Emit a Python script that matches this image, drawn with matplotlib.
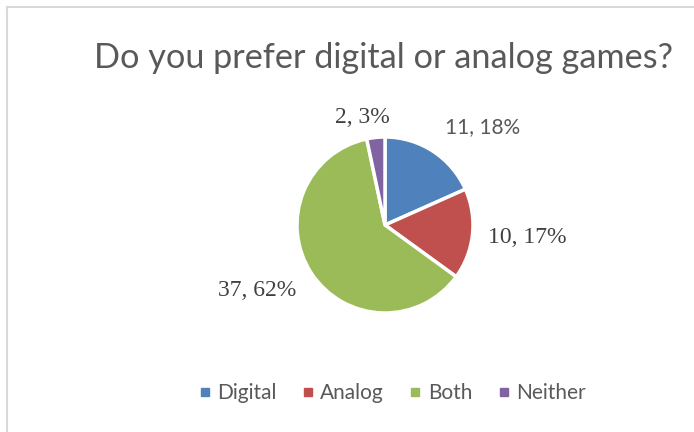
import numpy as np
import matplotlib.pyplot as plt
from matplotlib.lines import Line2D

categories = ["Digital", "Analog", "Both", "Neither"]
counts = [11, 10, 37, 2]
colors = ["#4F81BD", "#C0504D", "#9BBB59", "#8064A2"]

W, H = 694, 432
fig = plt.figure(figsize=(W / 100, H / 100), dpi=100)

# light frame on left and top
fig.add_artist(Line2D([7 / W, 7 / W], [0, 1 - 7 / H], color="#D9D9D9", lw=1.5))
fig.add_artist(Line2D([7 / W, 1], [1 - 7 / H, 1 - 7 / H], color="#D9D9D9", lw=1.5))

fig.text(383 / W, 1 - 58 / H, "Do you prefer digital or analog games?",
         ha="center", va="center", fontsize=24.7, color="#595959", family="Lato")

cx, cy, r = 385, 225, 88
ax = fig.add_axes([(cx - r) / W, 1 - (cy + r) / H, 2 * r / W, 2 * r / H])
wedges, _ = ax.pie(counts, colors=colors, startangle=90, counterclock=False,
                   radius=1, wedgeprops=dict(edgecolor="white", linewidth=2.5))
ax.set_xlim(-1, 1)
ax.set_ylim(-1, 1)
ax.set_aspect("equal")

total = sum(counts)
# label placement (angle tweak in degrees, distance in radii, font)
label_pos = [(12, 1.57, "Lato", 15, "#595959"),
             (-1, 1.62, "Liberation Serif", 17, "#404040"),
             (6, 1.63, "Liberation Serif", 17, "#404040"),
             (-6, 1.25, "Liberation Serif", 17, "#404040")]
for w, c, (dang, dist, fam, fs, col) in zip(wedges, counts, label_pos):
    mid = (w.theta1 + w.theta2) / 2 - dang
    x = dist * np.cos(np.radians(mid))
    y = dist * np.sin(np.radians(mid))
    pct = round(100 * c / total)
    ax.text(x, y, f"{c}, {pct}%", ha="center", va="center", fontsize=fs,
            family=fam, color=col, clip_on=False)

handles = [Line2D([], [], marker="s", linestyle="none", markersize=6,
                  markerfacecolor=col, markeredgecolor=col) for col in colors]
leg = fig.legend(handles, categories, loc="center", bbox_to_anchor=(391 / W, 1 - 393 / H),
                 ncol=4, frameon=False, handletextpad=0.2, columnspacing=1.1,
                 handlelength=0.8, prop=dict(family="Lato", size=15))
for t in leg.get_texts():
    t.set_color("#595959")

fig.savefig("out.png", dpi=100, facecolor="white")
